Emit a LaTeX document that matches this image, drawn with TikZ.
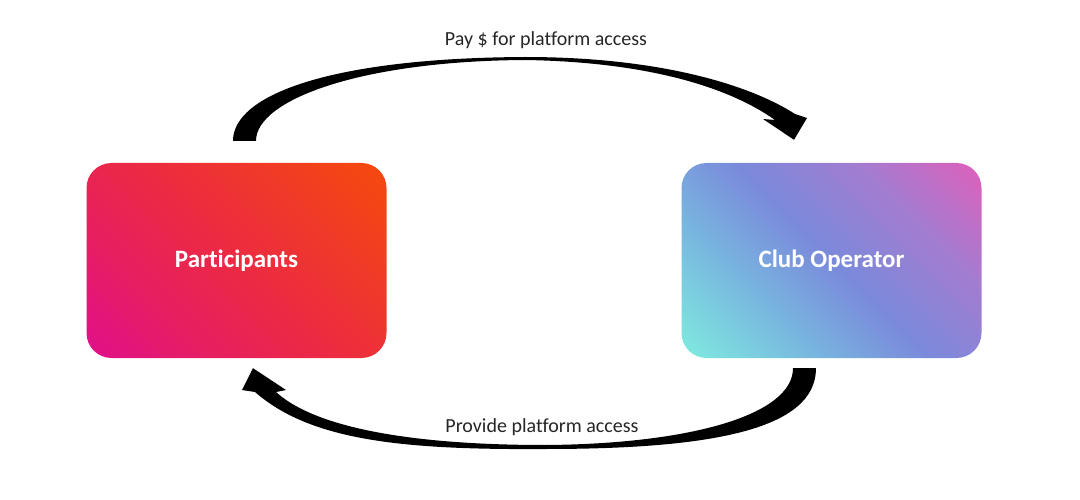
\documentclass[tikz,border=0pt]{standalone}
\usepackage{fontspec}
\setmainfont{Carlito}[Ligatures=NoCommon]
\usetikzlibrary{calc}

\definecolor{pmag}{HTML}{E0108A}
\definecolor{ppink}{HTML}{E61E62}
\definecolor{pred}{HTML}{EC2A42}
\definecolor{porange}{HTML}{F54A0C}
\definecolor{ccyan}{HTML}{7EEBDF}
\definecolor{csky}{HTML}{78B6DF}
\definecolor{cblue}{HTML}{7A8ADB}
\definecolor{cviolet}{HTML}{A47CD0}
\definecolor{cpink}{HTML}{DE60BB}
\definecolor{labelgray}{HTML}{262626}

\pgfdeclarehorizontalshading{partshade}{100bp}{color(0bp)=(pmag); color(15bp)=(pmag);
  color(32bp)=(ppink); color(50bp)=(pred); color(85bp)=(porange); color(100bp)=(porange)}
\pgfdeclarehorizontalshading{clubshade}{100bp}{color(0bp)=(ccyan); color(15bp)=(ccyan);
  color(34bp)=(csky); color(50bp)=(cblue); color(68bp)=(cviolet); color(85bp)=(cpink); color(100bp)=(cpink)}

\begin{document}
\begin{tikzpicture}[x=1pt, y=-1pt,
  box/.style={rounded corners=25pt, minimum width=300pt, minimum height=195pt,
    text=white, font=\bfseries\fontsize{25}{30}\selectfont, shading angle=45},
  lbl/.style={text=labelgray, font=\fontsize{20}{24}\selectfont}]

  \useasboundingbox (0,0) rectangle (1080,500);

  % Blokken
  \node[box, shading=partshade] (part) at (236.5,260.5) {Participants};
  \node[box, shading=clubshade] (club) at (831.5,260.5) {Club Operator};

  % Eindpunten van de pijlen
  \coordinate (p1) at ($(part.north)+(-3.5,-22)$);
  \coordinate (p2) at ($(part.north)+(19.5,-22)$);
  \coordinate (c1) at ($(club.north)+(-37.5,-23)$);
  \coordinate (q1) at ($(club.south)+(-15.5,10)$);
  \coordinate (q2) at ($(club.south)+(-38.5,10)$);
  \coordinate (q3) at ($(part.south)+(16.5,10)$);

  % Pijl boven: betaling
  \fill (p1) .. controls (233,95) and (330,58) .. (525,57)
    .. controls (660,57) and (750,85) .. (795,114)
    -- (807,118) -- (c1) -- (763,119) -- (775,120)
    .. controls (730,88) and (650,62) .. (525,60)
    .. controls (360,61) and (256,100) .. (p2) -- cycle;

  % Pijl onder: toegang
  \fill (q1) .. controls (816,430) and (710,449) .. (545,449)
    .. controls (400,450) and (310,440) .. (255,392)
    -- (242,390) -- (q3) -- (286,390) -- (276,392)
    .. controls (320,432) and (430,445) .. (545,445)
    .. controls (690,444) and (793,415) .. (q2) -- cycle;

  % Labels
  \node[lbl] (pay) at (546,40) {Pay \$ for platform access};
  \node[lbl] (prov) at (542,427) {Provide platform access};

\end{tikzpicture}
\end{document}
